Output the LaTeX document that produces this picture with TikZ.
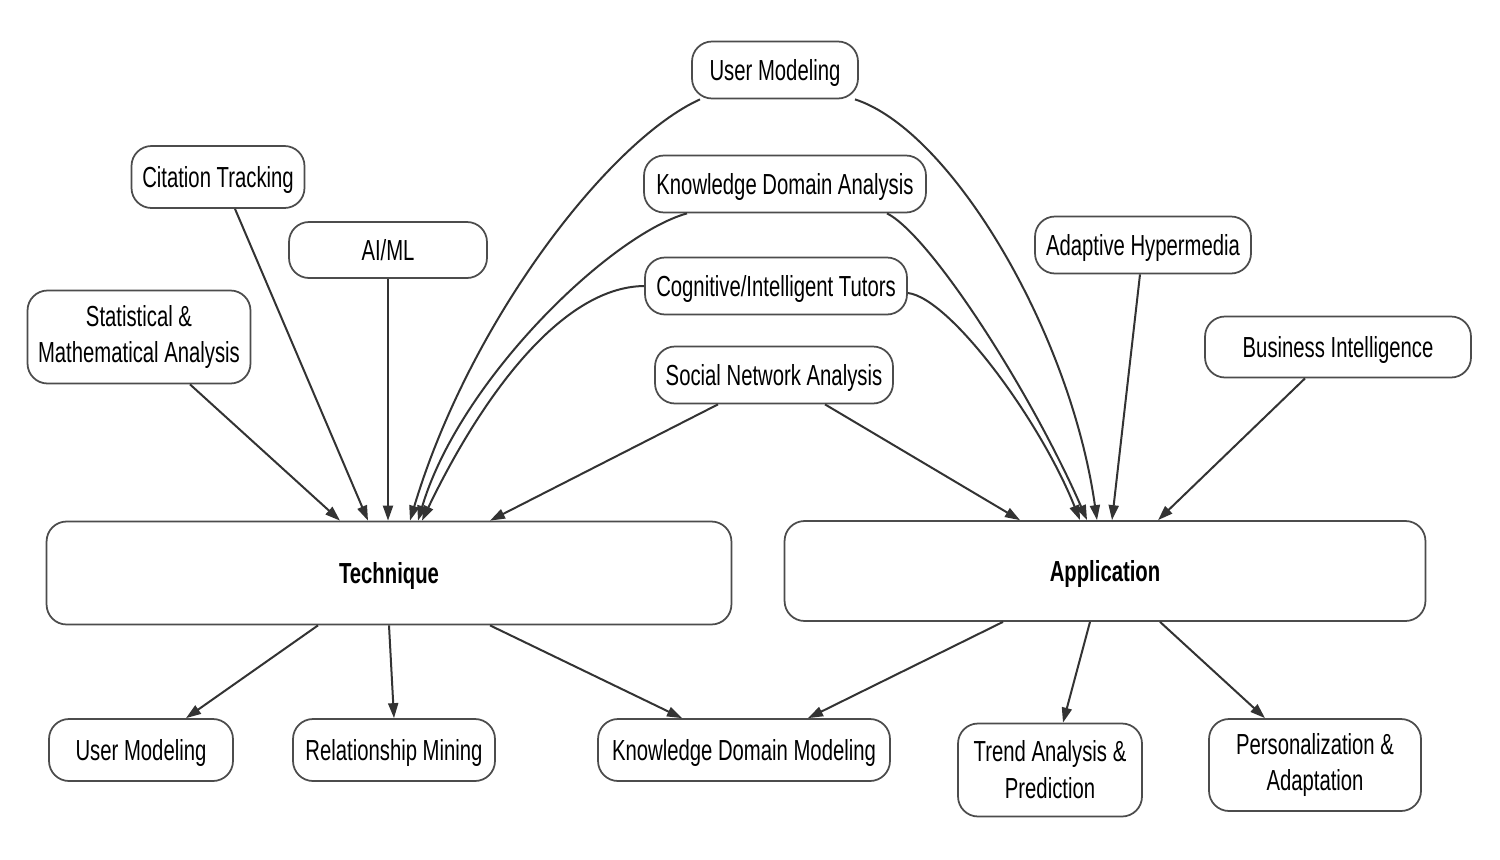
\documentclass[tikz,border=0pt]{standalone}
\usepackage{fontspec}
\setmainfont{Liberation Sans}[FakeStretch=0.7]
\usepackage{tikz}
\usetikzlibrary{positioning}
\usetikzlibrary{arrows.meta}
\usetikzlibrary{calc}

\begin{document}
\begin{tikzpicture}[x=0.02cm,y=-0.02cm,line width=0.04cm,
    box/.style={draw=black!70, line width=0.035cm, rounded corners=0.4cm, fill=white,
      align=center, inner sep=0pt, font=\fontsize{16.5}{21}\selectfont},
    oneline/.style={box, text height=0.5cm, text depth=0.1cm},
    hub/.style={oneline, font=\fontsize{16.5}{21}\selectfont\bfseries},
    link/.style={draw=black!80, -{Triangle[length=0.3cm,width=0.2cm]}}]

  \useasboundingbox (0,0) rectangle (1500,859);

  % sources of the techniques
  \node[box, minimum width=4.46cm, minimum height=1.86cm] (stat)  at (139,337) {Statistical \&\\ Mathematical Analysis};
  \node[oneline, minimum width=3.46cm, minimum height=1.24cm] (cite)  at (218,177) {Citation Tracking};
  \node[oneline, minimum width=3.96cm, minimum height=1.12cm] (aiml)  at (388,250) {AI/ML};

  % shared sources in the middle
  \node[oneline, minimum width=3.32cm, minimum height=1.14cm] (usrtop) at (775,70)  {User Modeling};
  \node[oneline, minimum width=5.64cm, minimum height=1.14cm] (kda)    at (785,184) {Knowledge Domain Analysis};
  \node[oneline, minimum width=5.24cm, minimum height=1.14cm] (cog)    at (776,286) {Cognitive/Intelligent Tutors};
  \node[oneline, minimum width=4.76cm, minimum height=1.14cm] (sna)    at (774,375) {Social Network Analysis};

  % sources of the applications
  \node[oneline, minimum width=4.32cm, minimum height=1.14cm] (adapt) at (1143,245) {Adaptive Hypermedia};
  \node[oneline, minimum width=5.32cm, minimum height=1.22cm] (bi)    at (1338,347) {Business Intelligence};

  % the two hubs
  \node[hub, minimum width=13.7cm,  minimum height=2.06cm] (tech) at (389,573)  {Technique};
  \node[hub, minimum width=12.82cm, minimum height=2.0cm]  (app)  at (1105,571) {Application};

  % results
  \node[oneline, minimum width=3.68cm, minimum height=1.24cm] (usrbot) at (141,750)  {User Modeling};
  \node[oneline, minimum width=4.04cm, minimum height=1.24cm] (relmin) at (394,750)  {Relationship Mining};
  \node[oneline, minimum width=5.84cm, minimum height=1.24cm] (kdm)    at (744,750)  {Knowledge Domain Modeling};
  \node[box, minimum width=3.68cm, minimum height=1.86cm] (trend)  at (1050,770) {Trend Analysis \&\\ Prediction};
  \node[box, minimum width=4.24cm, minimum height=1.84cm] (pers)   at (1315,765) {Personalization \&\\ Adaptation};

  % straight links into Technique
  \draw[link] ([xshift=1.02cm]stat.south) -- ([xshift=-0.98cm]tech.north);
  \draw[link] ([xshift=0.34cm]cite.south) -- ([xshift=-0.42cm]tech.north);
  \draw[link] (aiml.south) -- (aiml.south |- tech.north);
  \draw[link] ([xshift=-1.12cm]sna.south) -- ([xshift=2.02cm]tech.north);

  % curved links into Technique
  \draw[link] ([xshift=-1.5cm]usrtop.south) .. controls (610,140) and (470,320) .. ([xshift=0.42cm]tech.north);
  \draw[link] ([xshift=-1.96cm]kda.south) .. controls (610,235) and (460,380) .. ([xshift=0.58cm]tech.north);
  \draw[link] (cog.west) .. controls (560,287) and (480,400) .. ([xshift=0.66cm]tech.north);

  % curved links into Application
  \draw[link] ([xshift=1.6cm]usrtop.south) .. controls (950,130) and (1070,330) .. ([xshift=-0.16cm]app.north);
  \draw[link] ([xshift=2.04cm]kda.south) .. controls (930,235) and (1030,390) .. ([xshift=-0.36cm]app.north);
  \draw[link] ([yshift=-0.14cm]cog.east) .. controls (950,298) and (1040,420) .. ([xshift=-0.5cm]app.north);

  % straight links into Application
  \draw[link] ([xshift=1.02cm]sna.south) -- ([xshift=-1.7cm]app.north);
  \draw[link] ([xshift=-0.06cm]adapt.south) -- ([xshift=0.14cm]app.north);
  \draw[link] ([xshift=-0.66cm]bi.south) -- ([xshift=1.06cm]app.north);

  % links out of Technique
  \draw[link] ([xshift=-1.42cm]tech.south) -- ([xshift=0.9cm]usrbot.north);
  \draw[link] (tech.south) -- (relmin.north);
  \draw[link] ([xshift=2.02cm]tech.south) -- ([xshift=-1.24cm]kdm.north);

  % links out of Application
  \draw[link] ([xshift=-2.04cm]app.south) -- ([xshift=1.28cm]kdm.north);
  \draw[link] ([xshift=-0.3cm]app.south) -- ([xshift=0.26cm]trend.north);
  \draw[link] ([xshift=1.1cm]app.south) -- ([xshift=-1.0cm]pers.north);

\end{tikzpicture}
\end{document}
